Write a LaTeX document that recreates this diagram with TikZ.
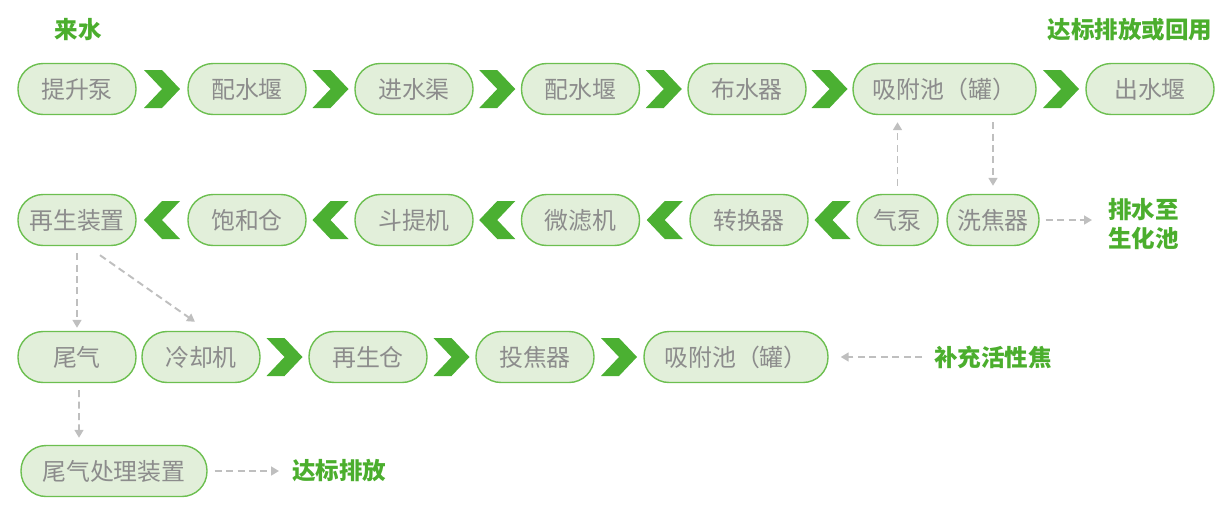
\documentclass[tikz,border=0pt]{standalone}
\usepackage{fontspec}
\usepackage{xcolor}
\usetikzlibrary{arrows.meta}
\newfontfamily\cjk{Noto Sans CJK SC}
\definecolor{boxfill}{HTML}{E2EFDA}
\definecolor{boxline}{HTML}{6CBF50}
\definecolor{boxtext}{HTML}{8C8C8C}
\definecolor{chevgreen}{HTML}{4BB032}
\definecolor{notegreen}{HTML}{4BAE2D}
\definecolor{arrgray}{HTML}{BFBFBF}

\begin{document}
\begin{tikzpicture}[x=0.02cm,y=-0.02cm]
  \tikzset{
    unit/.style={draw=boxline,fill=boxfill,line width=0.8pt,rounded corners=0.5cm,
      minimum width=2.36cm,minimum height=1.02cm,inner sep=0pt,
      font=\cjk\fontsize{13.6}{15}\selectfont,text=boxtext},
    note/.style={font=\cjk\bfseries\fontsize{13.4}{17}\selectfont,text=notegreen,align=left},
    flow/.style={draw=arrgray,line width=1.1pt,dash pattern=on 4pt off 2.5pt,
      -{Triangle[width=5pt,length=4.5pt]}},
    chevr/.pic={\fill[chevgreen] (-18,-19) -- (0,-19) -- (18,0) -- (0,19) -- (-18,19) -- (0,0) -- cycle;},
  }
  \useasboundingbox (0,0) rectangle (1227,522);

  % Row 1: water line.
  \node[unit] (tsb) at (77,89) {提升泵};
  \node[unit] (psy1) at (247,89) {配水堰};
  \node[unit] (jsq) at (414,89) {进水渠};
  \node[unit] (psy2) at (580.5,89) {配水堰};
  \node[unit] (bsq) at (747,89) {布水器};
  \node[unit,minimum width=3.66cm] (xfc1) at (944.5,89) {吸附池（罐）};
  \node[unit,minimum width=2.56cm] (csy) at (1150,89) {出水堰};

  % Row 2: coke return line.
  \node[unit] (zszz) at (77,220) {再生装置};
  \node[unit] (bhc) at (247,220) {饱和仓};
  \node[unit] (dtj) at (414,220) {斗提机};
  \node[unit] (wlj) at (580.5,220) {微滤机};
  \node[unit] (zhq) at (749,220) {转换器};
  \node[unit,minimum width=1.62cm] (qb) at (897.5,220) {气泵};
  \node[unit,minimum width=1.84cm] (xjq) at (993,220) {洗焦器};

  % Row 3 and 4: regeneration.
  \node[unit] (wq) at (77,357) {尾气};
  \node[unit] (lqj) at (201,357) {冷却机};
  \node[unit] (zsc) at (368,357) {再生仓};
  \node[unit] (tjq) at (535,357) {投焦器};
  \node[unit,minimum width=3.68cm] (xfc2) at (736,357) {吸附池（罐）};
  \node[unit,minimum width=3.72cm] (wqcl) at (114,471) {尾气处理装置};

  % Notes.
  \node[note] (inlet) at (78,30) {来水};
  \node[note] (outlet) at (1130,30) {达标排放或回用};
  \node[note,anchor=west] (drain) at (1102,224) {排水至\\生化池};
  \node[note,anchor=west] (addc) at (928,357) {补充活性焦};
  \node[note,anchor=west] (emit) at (286,471) {达标排放};

  % Chevrons.
  \foreach \a/\b in {tsb/psy1,psy1/jsq,jsq/psy2,psy2/bsq,bsq/xfc1,xfc1/csy,
                     lqj/zsc,zsc/tjq,tjq/xfc2} {
    \path (\a.east) -- (\b.west) coordinate[midway] (m);
    \pic at (m) {chevr};
  }
  \foreach \a/\b in {zszz/bhc,bhc/dtj,dtj/wlj,wlj/zhq,zhq/qb} {
    \path (\a.east) -- (\b.west) coordinate[midway] (m);
    \pic[xscale=-1] at (m) {chevr};
  }

  % Dashed flows.
  \draw[flow] ([yshift=0.16cm]qb.north) -- ([yshift=-0.14cm]qb.north |- xfc1.south);
  \draw[flow] ([yshift=-0.14cm]xjq.north |- xfc1.south) -- ([yshift=0.16cm]xjq.north);
  \draw[flow] ([xshift=0.12cm]xjq.east) -- ([xshift=-0.2cm]drain.west |- xjq.east);
  \draw[flow] ([xshift=-0.12cm]addc.west) -- ([xshift=0.24cm]xfc2.east);
  \draw[flow] ([xshift=0.14cm]wqcl.east) -- ([xshift=-0.14cm]emit.west);
  \draw[flow] ([yshift=-0.14cm]zszz.south) -- ([yshift=0.06cm]wq.north);
  \draw[flow] ([xshift=0.46cm,yshift=-0.18cm]zszz.south) -- ([xshift=-0.12cm,yshift=0.18cm]lqj.north);
  \draw[flow] ([xshift=0.04cm,yshift=-0.14cm]wq.south) -- ([xshift=-0.7cm,yshift=0.14cm]wqcl.north);
\end{tikzpicture}
\end{document}
